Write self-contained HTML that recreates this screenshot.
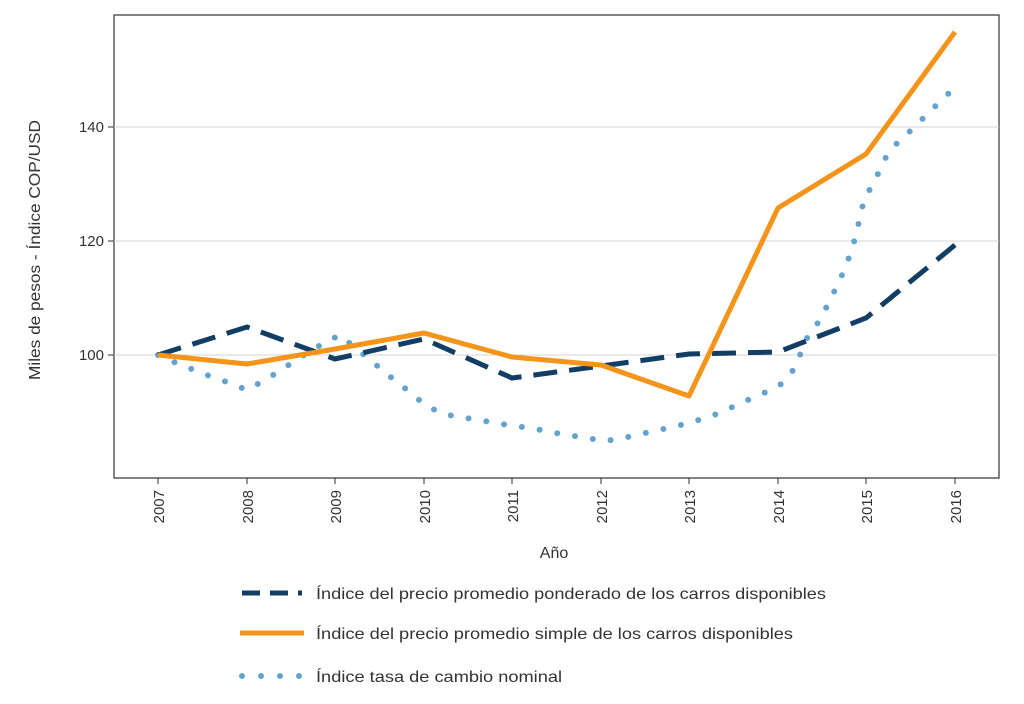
<!DOCTYPE html>
<html><head><meta charset="utf-8"><style>
body{margin:0;background:#fff;}
svg text{font-family:"Liberation Sans",sans-serif;fill:#333;}
</style></head><body>
<svg width="1024" height="699" viewBox="0 0 1024 699">
<rect x="114" y="15" width="885" height="463" fill="#fff" stroke="#333" stroke-width="1.2"/>
<g stroke="#d6d6d6" stroke-width="1">
<line x1="114" y1="355" x2="999" y2="355"/>
<line x1="114" y1="241" x2="999" y2="241"/>
<line x1="114" y1="127" x2="999" y2="127"/>
</g>
<g font-size="15" text-anchor="end">
<text x="104" y="360">100</text>
<text x="104" y="246">120</text>
<text x="104" y="132">140</text>
</g>
<g stroke="#333" stroke-width="1">
<line x1="108" y1="355" x2="114" y2="355"/><line x1="108" y1="241" x2="114" y2="241"/><line x1="108" y1="127" x2="114" y2="127"/>
<line x1="158" y1="478" x2="158" y2="484"/><line x1="247" y1="478" x2="247" y2="484"/><line x1="335" y1="478" x2="335" y2="484"/><line x1="424" y1="478" x2="424" y2="484"/><line x1="512" y1="478" x2="512" y2="484"/><line x1="601" y1="478" x2="601" y2="484"/><line x1="689" y1="478" x2="689" y2="484"/><line x1="778" y1="478" x2="778" y2="484"/><line x1="866" y1="478" x2="866" y2="484"/><line x1="955" y1="478" x2="955" y2="484"/>
</g>
<g font-size="15" text-anchor="end">
<text transform="translate(164,490) rotate(-90)">2007</text>
<text transform="translate(253,490) rotate(-90)">2008</text>
<text transform="translate(341,490) rotate(-90)">2009</text>
<text transform="translate(430,490) rotate(-90)">2010</text>
<text transform="translate(518,490) rotate(-90)">2011</text>
<text transform="translate(607,490) rotate(-90)">2012</text>
<text transform="translate(695,490) rotate(-90)">2013</text>
<text transform="translate(784,490) rotate(-90)">2014</text>
<text transform="translate(872,490) rotate(-90)">2015</text>
<text transform="translate(961,490) rotate(-90)">2016</text>
</g>
<text x="554" y="558" font-size="16" text-anchor="middle">Año</text>
<text transform="translate(40,380) rotate(-90)" font-size="16" textLength="260" lengthAdjust="spacingAndGlyphs">Miles de pesos - Índice COP/USD</text>
<polyline fill="none" stroke="#65a3cf" stroke-width="6" stroke-linecap="round" stroke-dasharray="0 18" points="158,355 176,363 194,370 212,377 230,383 247,390 263,381 278,372 293,362 309,352 324,343 340,335 354,347 368,358 382,370 397,382 411,393 425,405 443,414 460,417 478,420 496,423 513,426 532,428 550,432 568,435 587,438 605,441 623,438 641,434 659,430 677,426 692,422 712,416 730,408 748,400 764,393 780,385 792,372 800,355 808,336 820,320 830,300 840,280 850,255 856,235 860,217 864,200 875,180 888,153 902,138 915,127 928,113 942,100 955,87"/>
<polyline fill="none" stroke="#123e66" stroke-width="5" stroke-dasharray="24 12" points="158,355 247,327 335,359 424,339 512,378 601,366 689,354 778,352 866,318 955,245"/>
<polyline fill="none" stroke="#f5941b" stroke-width="5" stroke-linejoin="round" points="158,355 247,364 335,349 424,333 512,357 601,365 689,396 778,208 866,154 955,32"/>
<line x1="242" y1="593" x2="302" y2="593" stroke="#123e66" stroke-width="5" stroke-dasharray="18 10"/>
<text x="316" y="599" font-size="16" textLength="510" lengthAdjust="spacingAndGlyphs">Índice del precio promedio ponderado de los carros disponibles</text>
<line x1="240" y1="633" x2="304" y2="633" stroke="#f5941b" stroke-width="5"/>
<text x="316" y="639" font-size="16" textLength="477" lengthAdjust="spacingAndGlyphs">Índice del precio promedio simple de los carros disponibles</text>
<line x1="242" y1="676" x2="300" y2="676" stroke="#65a3cf" stroke-width="6" stroke-linecap="round" stroke-dasharray="0 19"/>
<text x="316" y="682" font-size="16" textLength="246" lengthAdjust="spacingAndGlyphs">Índice tasa de cambio nominal</text>
</svg>
</body></html>
